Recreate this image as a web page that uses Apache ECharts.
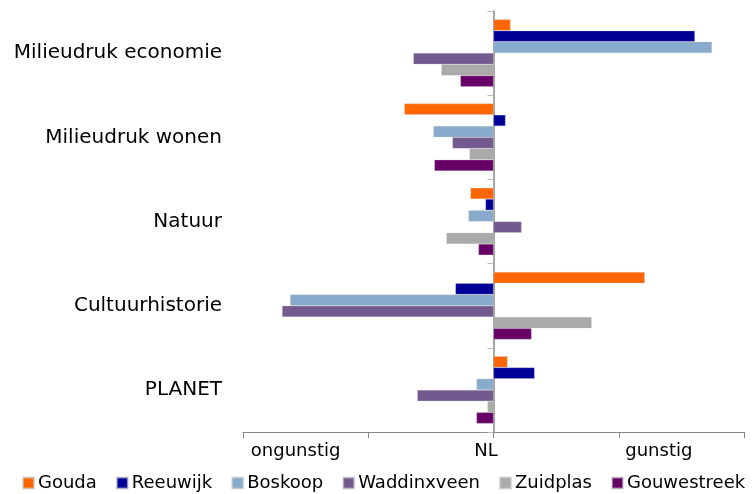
<!DOCTYPE html>
<html>
<head>
<meta charset="utf-8">
<script src="https://cdn.jsdelivr.net/npm/echarts@6/dist/echarts.min.js"></script>
<style>
html, body { margin: 0; padding: 0; background: #fff; }
#main { width: 753px; height: 494px; }
</style>
</head>
<body>
<div id="main"></div>
<script>
var categories = ['Milieudruk economie', 'Milieudruk wonen', 'Natuur', 'Cultuurhistorie', 'PLANET'];
var seriesNames = ['Gouda', 'Reeuwijk', 'Boskoop', 'Waddinxveen', 'Zuidplas', 'Gouwestreek'];
var colors = ['#FF6600', '#000099', '#88AACC', '#725A8E', '#AAAAAA', '#660066'];
var gouda       = [0.068, -0.356, -0.092, 0.604, 0.056];
var reeuwijk    = [0.804, 0.048, -0.032, -0.152, 0.164];
var boskoop     = [0.872, -0.240, -0.100, -0.812, -0.068];
var waddinxveen = [-0.320, -0.164, 0.112, -0.844, -0.304];
var zuidplas    = [-0.208, -0.096, -0.188, 0.392, -0.024];
var gouwestreek = [-0.132, -0.236, -0.060, 0.152, -0.068];
var xLabels = [['ongunstig', -0.79], ['NL', -0.03], ['gunstig', 0.66]];

var allData = [gouda, reeuwijk, boskoop, waddinxveen, zuidplas, gouwestreek];
var font = 'DejaVu Sans';

var myChart = echarts.init(document.getElementById('main'));

var series = [];
for (var i = 0; i < seriesNames.length; i++) {
    series.push({
        name: seriesNames[i],
        type: 'bar',
        yAxisIndex: 0,
        data: allData[i],
        barCategoryGap: '20%',
        barGap: '0%',
        itemStyle: { color: colors[i], borderColor: 'rgba(200,200,200,0.6)', borderWidth: 0.5 }
    });
}

var option = {
    animation: false,
    textStyle: { fontFamily: font },
    grid: { left: 243, right: 9, top: 11, bottom: 62 },
    legend: {
        data: seriesNames,
        bottom: 2,
        left: 22,
        right: 0,
        padding: 0,
        itemWidth: 11,
        itemHeight: 11,
        itemGap: 19,
        icon: 'rect',
        textStyle: { fontFamily: font, fontSize: 18, color: '#000', padding: [0, 0, 0, -1] }
    },
    xAxis: {
        type: 'value',
        min: -1,
        max: 1,
        interval: 0.5,
        axisLine: { show: true, onZero: false, lineStyle: { color: '#888', width: 1 } },
        axisTick: { show: true, length: 6, lineStyle: { color: '#888' } },
        splitLine: { show: false },
        axisLabel: {
            customValues: xLabels.map(function (d) { return d[1]; }),
            margin: 10,
            fontSize: 18,
            color: '#000',
            fontFamily: font,
            formatter: function (v) {
                for (var k = 0; k < xLabels.length; k++) {
                    if (Math.abs(xLabels[k][1] - v) < 1e-6) return xLabels[k][0];
                }
                return '';
            }
        }
    },
    yAxis: [
        {
            type: 'category',
            data: categories,
            inverse: true,
            position: 'left',
            axisLine: { show: false, onZero: false },
            axisTick: { show: false },
            axisLabel: { fontSize: 20, color: '#000', margin: 21, fontFamily: font }
        },
        {
            type: 'category',
            data: categories,
            inverse: true,
            position: 'left',
            axisLine: { show: true, onZero: true, lineStyle: { color: '#888', width: 1.5 } },
            axisTick: { show: true, length: 6, lineStyle: { color: '#bbb' } },
            axisLabel: { show: false }
        }
    ],
    series: series
};
myChart.setOption(option);
</script>
</body>
</html>
